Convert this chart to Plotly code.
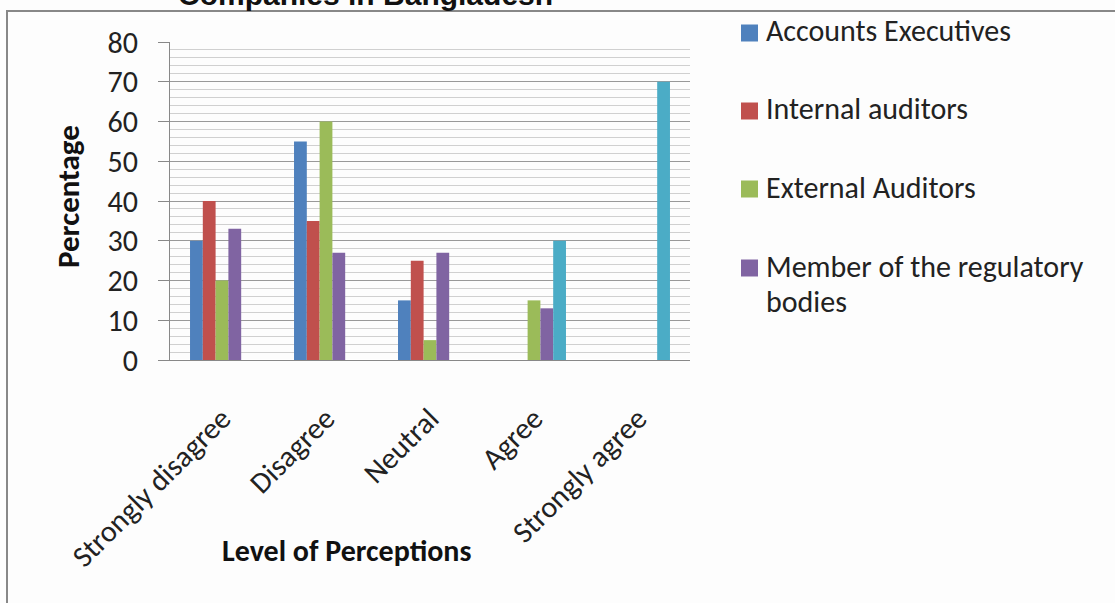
import plotly.graph_objects as go

categories = ["Strongly disagree", "Disagree", "Neutral", "Agree", "Strongly agree"]
accounts_exec = [30, 55, 15, 0, 0]
internal_aud = [40, 35, 25, 0, 0]
external_aud = [20, 60, 5, 15, 0]
regulatory = [33, 27, 27, 13, 0]
other_series = [0, 0, 0, 30, 70]

series_names = ["Accounts Executives", "Internal auditors", "External Auditors",
                "Member of the regulatory<br>bodies", "Other"]
series_vals = [accounts_exec, internal_aud, external_aud, regulatory, other_series]
colors = ["#4F81BD", "#C0504D", "#9BBB59", "#8064A2", "#4BACC6"]
legend_rows = [33, 111, 189, 268]  # pixel centres of legend rows

W, H = 1115, 603
L, R, T, B = 170, 690, 42, 360
FONT = "Carlito, Calibri, Lato, sans-serif"

fig = go.Figure()
for i, (n, v, c) in enumerate(zip(series_names, series_vals, colors)):
    fig.add_trace(go.Bar(x=categories, y=v, name=n.replace("<br>", " "),
                         marker_color=c, marker_line_width=0, showlegend=False))

pw, ph = R - L, B - T
def px(x):
    return (x - L) / pw
def py(y):
    return (B - y) / ph

annotations = [
    dict(text="<b>Percentage</b>", x=px(68), y=py(197), xref="paper", yref="paper",
         textangle=-90, showarrow=False, xanchor="center", yanchor="middle",
         font=dict(family=FONT, size=31, color="#111")),
    dict(text="<b>Level of Perceptions</b>", x=px(346), y=py(550), xref="paper",
         yref="paper", showarrow=False, xanchor="center", yanchor="middle",
         font=dict(family=FONT, size=30, color="#111")),
    dict(text="<b>Companies in Bangladesh</b>", x=px(365), y=py(-6), xref="paper",
         yref="paper", showarrow=False, xanchor="center", yanchor="middle",
         font=dict(family="Liberation Sans, Arial, sans-serif", size=30, color="#111")),
]
shapes = [
    dict(type="rect", xref="paper", yref="paper", x0=px(7), x1=px(1130),
         y0=py(11), y1=py(700), line=dict(color="#888", width=2),
         fillcolor="rgba(0,0,0,0)", layer="below"),
]

# legend (first four series)
for i in range(4):
    yc = legend_rows[i]
    shapes.append(dict(type="rect", xref="paper", yref="paper",
                       x0=px(741), x1=px(758), y0=py(yc - 8.5), y1=py(yc + 8.5),
                       fillcolor=colors[i], line=dict(width=0)))
    for j, line in enumerate(series_names[i].split("<br>")):
        annotations.append(dict(text=line, x=px(764), y=py(yc - 2 + 35 * j),
                                xref="paper", yref="paper", showarrow=False,
                                xanchor="left", yanchor="middle", align="left",
                                font=dict(family=FONT, size=30, color="#222")))

fig.update_layout(
    width=W, height=H,
    margin=dict(l=L, r=W - R, t=T, b=H - B),
    paper_bgcolor="#FDFDFD", plot_bgcolor="#FDFDFD",
    barmode="group", bargap=0.385, bargroupgap=0,
    showlegend=False,
    xaxis=dict(showgrid=False, showline=True, linecolor="#888", linewidth=1,
               tickangle=-45, ticks="", ticklabelstandoff=28,
               tickfont=dict(family=FONT, size=30, color="#222")),
    yaxis=dict(range=[0, 80], dtick=10, showline=True, linecolor="#888",
               ticks="outside", ticklen=11, tickcolor="#888", ticklabelstandoff=14,
               gridcolor="#999", gridwidth=1,
               minor=dict(dtick=2, showgrid=True, gridcolor="#D0D0D0", gridwidth=1),
               tickfont=dict(family=FONT, size=30, color="#222")),
    annotations=annotations,
    shapes=shapes,
)

fig.write_html("out.html")
